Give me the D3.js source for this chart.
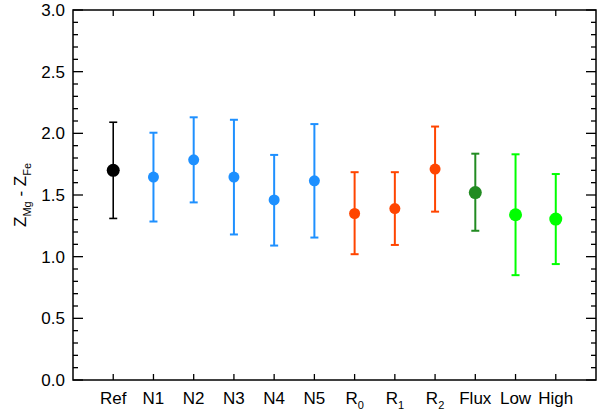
<!DOCTYPE html>
<html><head><meta charset="utf-8">
<script src="https://cdn.jsdelivr.net/npm/d3@7"></script>
<style>body{margin:0;background:#fff}svg{display:block}text{font-family:"Liberation Sans",Arial,sans-serif;fill:#000}</style>
</head><body>
<svg id="c" width="601" height="411"></svg>
<script>
const categories = ["Ref","N1","N2","N3","N4","N5","R0","R1","R2","Flux","Low","High"];
const labelMain = ["Ref","N1","N2","N3","N4","N5","R","R","R","Flux","Low","High"];
const labelSub  = ["","","","","","","0","1","2","","",""];
const values = [1.70,1.645,1.785,1.645,1.46,1.615,1.35,1.39,1.71,1.52,1.34,1.305];
const upper  = [2.09,2.005,2.13,2.11,1.825,2.075,1.685,1.685,2.055,1.835,1.83,1.67];
const lower  = [1.31,1.285,1.44,1.18,1.09,1.155,1.02,1.095,1.365,1.21,0.85,0.94];
const colors = ["#000000","#1E90FF","#1E90FF","#1E90FF","#1E90FF","#1E90FF","#FF4500","#FF4500","#FF4500","#228B22","#00FF00","#00FF00"];
const radii  = [6.5,5.5,5.5,5.5,5.5,5.5,5.5,5.5,5.5,6.5,6.5,6.5];
const yTicks = [0,0.5,1.0,1.5,2.0,2.5,3.0];

const svg = d3.select("#c");
const L=73,R=596,T=10,B=380;
const x = d3.scaleLinear().domain([0,13]).range([L,R]);
const y = d3.scaleLinear().domain([0,3]).range([B,T]);
const idx = d3.range(categories.length).map(i=>i+1);
const minor = d3.range(0,3.0001,0.1);

const ax = svg.append("g").attr("stroke","#000").attr("stroke-width",1.3).attr("fill","none");
ax.append("rect").attr("x",L).attr("y",T).attr("width",R-L).attr("height",B-T).attr("stroke-width",1.5);
minor.forEach(v=>{
  const major = Math.abs(v*2-Math.round(v*2))<1e-6;
  const len = major?10:5;
  ax.append("line").attr("x1",L).attr("x2",L+len).attr("y1",y(v)).attr("y2",y(v));
  ax.append("line").attr("x1",R).attr("x2",R-len).attr("y1",y(v)).attr("y2",y(v));
});
idx.forEach(d=>{
  ax.append("line").attr("x1",x(d)).attr("x2",x(d)).attr("y1",B).attr("y2",B-6);
  ax.append("line").attr("x1",x(d)).attr("x2",x(d)).attr("y1",T).attr("y2",T+6);
});

svg.append("g").selectAll("text").data(yTicks).join("text")
  .attr("x",L-8).attr("y",d=>y(d)+6).attr("text-anchor","end").attr("font-size",17)
  .text(d=>d3.format(".1f")(d));

// category labels
const lab = svg.append("g").selectAll("text").data(idx).join("text")
  .attr("x",d=>x(d)).attr("y",404).attr("text-anchor","middle").attr("font-size",17);
lab.each(function(d,i){
  const t=d3.select(this);
  t.append("tspan").text(labelMain[i]);
  if(labelSub[i]) t.append("tspan").attr("font-size",11).attr("dy",5).text(labelSub[i]);
});

// y label
const yl = svg.append("text").attr("transform","translate(26,195) rotate(-90)").attr("text-anchor","middle").attr("font-size",17);
yl.append("tspan").text("Z");
yl.append("tspan").attr("font-size",11).attr("dy",5).text("Mg");
yl.append("tspan").attr("dy",-5).text(" - Z");
yl.append("tspan").attr("font-size",11).attr("dy",5).text("Fe");

// error bars
const g = svg.append("g");
idx.forEach((d,i)=>{
  const cx=x(d), c=colors[i], w = i===0?1.6:2;
  g.append("line").attr("x1",cx).attr("x2",cx).attr("y1",y(lower[i])).attr("y2",y(upper[i])).attr("stroke",c).attr("stroke-width",w);
  [upper[i],lower[i]].forEach(v=>g.append("line").attr("x1",cx-4).attr("x2",cx+4).attr("y1",y(v)).attr("y2",y(v)).attr("stroke",c).attr("stroke-width",w));
  g.append("circle").attr("cx",cx).attr("cy",y(values[i])).attr("r",radii[i]).attr("fill",c);
});
</script>
</body></html>
